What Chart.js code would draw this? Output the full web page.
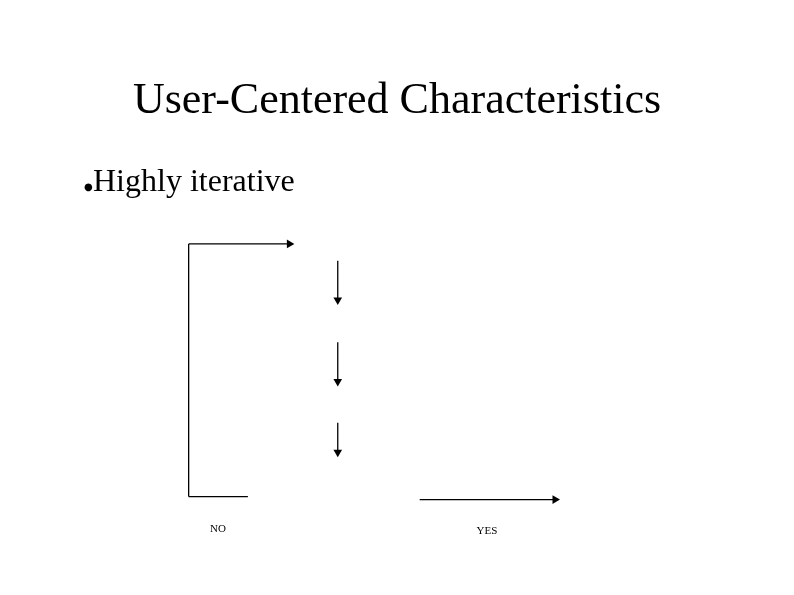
<!DOCTYPE html>
<html><head><meta charset="utf-8">
<script src="https://cdn.jsdelivr.net/npm/chart.js@4/dist/chart.umd.min.js"></script>
<style>html,body{margin:0;padding:0;background:#fff}#c{display:block}</style>
</head><body>
<div style="width:794px;height:595px"><canvas id="c" width="794" height="595"></canvas></div>
<script>
// Diagram segments in page units (x right, y down)
const segStartX = [186, 186, 186, 337, 337, 337, 420];
const segStartY = [500, 243, 500, 260, 343, 425, 503];
const segEndX   = [186, 288, 246, 337, 337, 337, 557];
const segEndY   = [243, 243, 500, 300, 383, 455, 503];
const segArrow  = [false, true, false, true, true, true, true];
const titleText = "User-Centered Characteristics";
const bulletText = "Highly iterative";
const labels = [["NO", 218, 529], ["YES", 487, 531]];

const datasets = segStartX.map((x0, i) => {
  const x1 = segEndX[i], y0 = segStartY[i], y1 = segEndY[i];
  const rot = x1 > x0 ? 90 : (y1 > y0 ? 180 : 0);
  return {
    data: [{x: x0, y: y0}, {x: x1, y: y1}],
    showLine: true, borderColor: '#000', borderWidth: 1.3,
    backgroundColor: '#000',
    pointRadius: [0, segArrow[i] ? 5 : 0],
    pointStyle: 'triangle', rotation: [0, rot],
    pointBorderWidth: 0
  };
});

const textPlugin = {
  id: 'texts',
  afterDraw(chart) {
    const ctx = chart.ctx;
    ctx.save();
    ctx.fillStyle = '#000';
    ctx.textBaseline = 'middle';
    ctx.textAlign = 'center';
    ctx.font = '44px "Liberation Serif", "Times New Roman", serif';
    ctx.fillText(titleText, 397, 101);
    ctx.textAlign = 'left';
    ctx.font = '10px "DejaVu Sans", sans-serif';
    ctx.fillText('●', 84, 187);
    ctx.font = '32px "Liberation Serif", serif';
    ctx.fillText(bulletText, 93, 183);
    ctx.textAlign = 'center';
    ctx.font = '11px "Liberation Serif", serif';
    labels.forEach(l => ctx.fillText(l[0], l[1], l[2]));
    ctx.restore();
  }
};

new Chart(document.getElementById('c'), {
  type: 'scatter',
  data: { datasets },
  options: {
    responsive: false, animation: false,
    layout: { padding: 0 },
    plugins: { legend: { display: false }, tooltip: { enabled: false } },
    scales: {
      x: { type: 'linear', min: 0, max: 794, display: false },
      y: { type: 'linear', min: 0, max: 595, reverse: true, display: false }
    }
  },
  plugins: [textPlugin]
});
</script>
</body></html>
